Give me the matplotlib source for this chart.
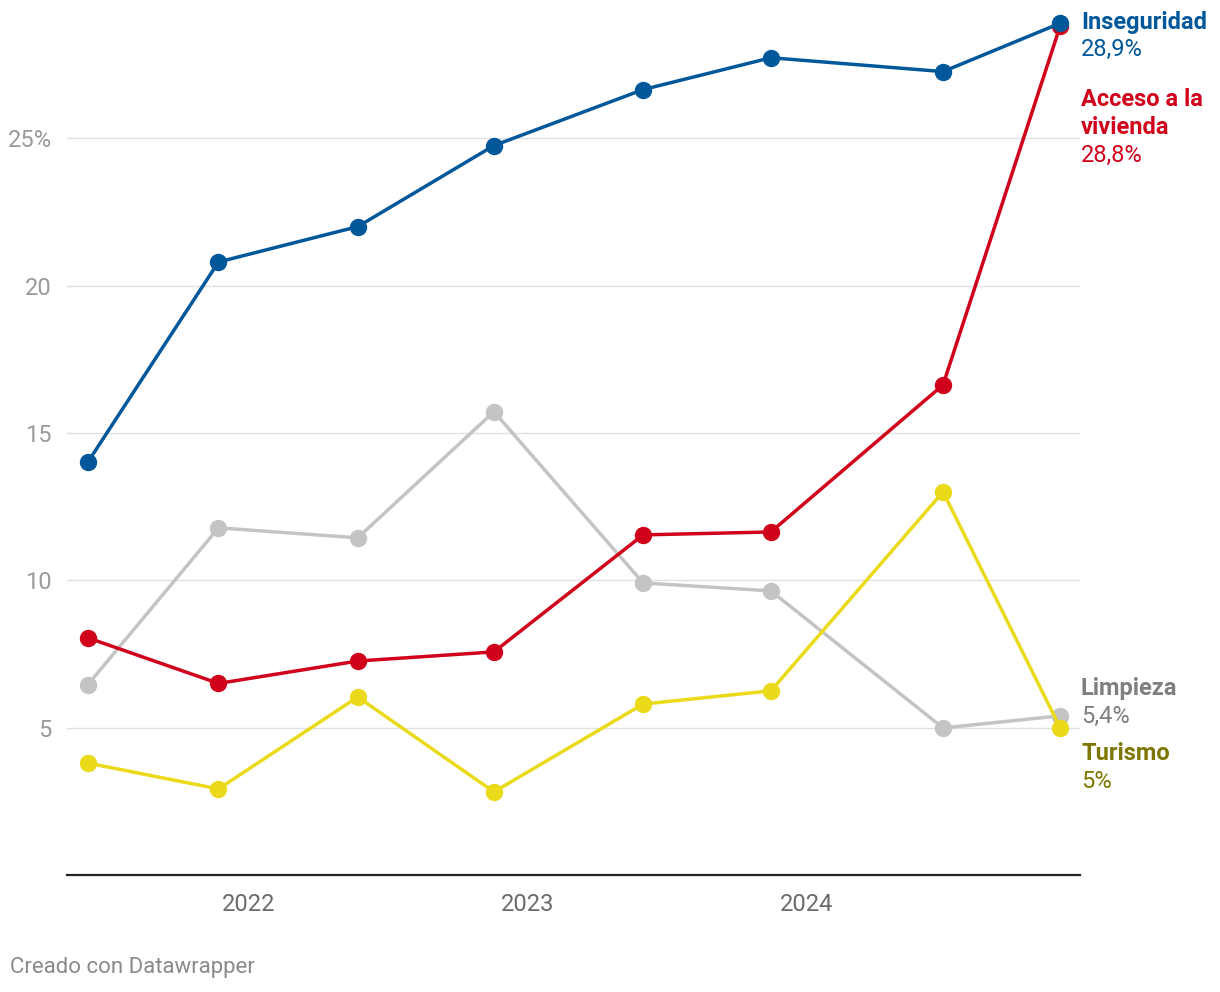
import matplotlib
matplotlib.use("Agg")
import matplotlib.pyplot as plt
import matplotlib.dates as mdates
import pandas as pd

plt.rcParams['font.family'] = ['Roboto', 'DejaVu Sans']

dates = ['2021-06-05', '2021-11-23', '2022-05-24', '2022-11-18',
         '2023-06-01', '2023-11-15', '2024-06-27', '2024-11-27']
inseguridad = [14.0, 20.8, 22.0, 24.75, 26.65, 27.73, 27.26, 28.9]
vivienda = [8.05, 6.5, 7.26, 7.57, 11.54, 11.64, 16.63, 28.8]
limpieza = [6.45, 11.78, 11.44, 15.72, 9.91, 9.64, 4.99, 5.4]
turismo = [3.8, 2.92, 6.04, 2.82, 5.8, 6.25, 13.0, 5.0]
y_ticks = [5, 10, 15, 20, 25]
y_tick_labels = ['5', '10', '15', '20', '25%']

W, H = 1220, 992
fig = plt.figure(figsize=(W / 100, H / 100), dpi=100)
ax = fig.add_axes([67 / W, 1 - 875 / H, (1080 - 67) / W, (875 - 10) / H])

x = pd.to_datetime(dates)
series = [
    (limpieza, '#c4c4c4'),
    (turismo, '#eada1a'),
    (vivienda, '#d0021b'),
    (inseguridad, '#00579a'),
]
for vals, col in series:
    ax.plot(x, vals, color=col, lw=2.5, marker='o', ms=11.5, mec=col, mfc=col,
            solid_capstyle='round', zorder=3, clip_on=False)

ax.set_xlim(pd.Timestamp('2021-05-09'), pd.Timestamp('2024-12-23'))
ax.set_ylim(0, 29.35)

ax.set_yticks(y_ticks)
ax.set_yticklabels(y_tick_labels)
ax.grid(axis='y', color='#e1e1e1', lw=1, zorder=0)
ax.tick_params(axis='y', length=0, pad=11, labelsize=17, labelcolor='#9a9a9a')

ax.xaxis.set_major_locator(mdates.YearLocator())
ax.xaxis.set_major_formatter(mdates.DateFormatter('%Y'))
ax.tick_params(axis='x', length=0, pad=13, labelsize=17, labelcolor='#6b6b6b')

for s in ['top', 'right', 'left']:
    ax.spines[s].set_visible(False)
ax.spines['bottom'].set_color('#222222')
ax.spines['bottom'].set_linewidth(1.6)

def lab(ypx, txt, col, bold):
    fig.text(1081 / W, 1 - ypx / H, txt, color=col, fontsize=17,
             fontweight='bold' if bold else 'normal', va='center', ha='left')

lab(22, 'Inseguridad', '#00579a', True)
lab(49, '28,9%', '#00579a', False)
lab(100, 'Acceso a la', '#d0021b', True)
lab(127, 'vivienda', '#d0021b', True)
lab(155, '28,8%', '#d0021b', False)
lab(688, 'Limpieza', '#7f7f7f', True)
lab(716, '5,4%', '#7f7f7f', False)
lab(754, 'Turismo', '#7d7700', True)
lab(781, '5%', '#7d7700', False)

fig.text(10 / W, 1 - 968 / H, 'Creado con Datawrapper', color='#8a8a8a',
         fontsize=16, va='center', ha='left')

fig.savefig('out.png', dpi=100)
